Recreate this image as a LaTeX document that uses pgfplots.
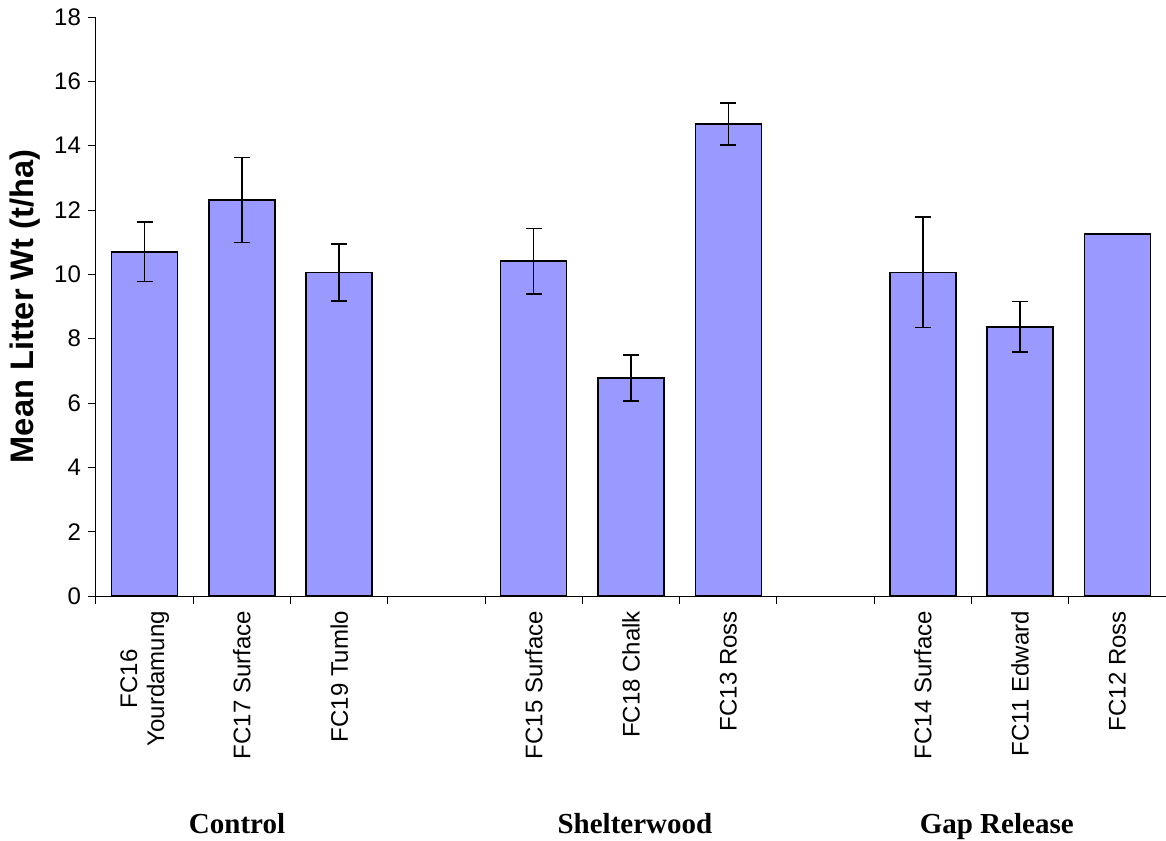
\documentclass[border=0pt]{standalone}
\usepackage{pgfplots}
\pgfplotsset{compat=1.18}
\usepackage{pgfplotstable}
\usepackage{fontspec}
\setmainfont{Liberation Sans}
\newfontfamily\timesfont{Liberation Serif}
\definecolor{barblue}{HTML}{9999FF}
\pgfplotstableread{
x y e
0 10.70 0.92
1 12.31 1.32
2 10.06 0.89
4 10.41 1.02
5 6.78 0.71
6 14.67 0.65
8 10.06 1.72
9 8.37 0.78
10 11.26 0
}\datatable
\begin{document}
\begin{tikzpicture}
\begin{axis}[
  scale only axis,
  width=535pt, height=289.5pt,
  xmin=-0.5, xmax=10.5, ymin=0, ymax=18,
  axis x line=bottom, axis y line=left,
  axis line style={-, black, line width=0.5pt},
  ytick={0,2,...,18},
  xtick={0,1,2,4,5,6,8,9,10},
  xticklabels={{FC16\\Yourdamung},{FC17 Surface},{FC19 Tumlo},{FC15 Surface},{FC18 Chalk},{FC13 Ross},{FC14 Surface},{FC11 Edward},{FC12 Ross}},
  minor xtick={-0.5,0.5,...,10.5},
  major x tick style={draw=none},
  tick align=outside,
  major tick length=4pt,
  minor tick length=4pt,
  tick style={black, line width=0.5pt},
  xticklabel style={rotate=90, anchor=east, align=center, font=\fontsize{12}{13.5}\selectfont},
  yticklabel style={font=\fontsize{12}{13.5}\selectfont},
  /pgf/number format/assume math mode=true,
  ylabel={\bfseries Mean Litter Wt (t/ha)},
  ylabel style={font=\fontsize{16.3}{19}\selectfont},
  clip=false,
]
\addplot[ybar, bar width=33pt, fill=barblue, draw=black, line width=0.75pt,
  error bars/.cd, y dir=both, y explicit,
  error bar style={black, line width=0.75pt},
  error mark options={black, line width=0.75pt, mark size=4pt, rotate=90}]
  table[x=x, y=y, y error=e] {\datatable};
\node[anchor=base, font=\timesfont\bfseries\fontsize{14.5}{17}\selectfont] at (axis cs:0.95,0) [yshift=-118.5pt] {Control};
\node[anchor=base, font=\timesfont\bfseries\fontsize{14.5}{17}\selectfont] at (axis cs:5.04,0) [yshift=-118.5pt] {Shelterwood};
\node[anchor=base, font=\timesfont\bfseries\fontsize{14.5}{17}\selectfont] at (axis cs:8.76,0) [yshift=-118.5pt] {Gap Release};
\coordinate (BL) at (rel axis cs:-0.0897,-0.4231);
\coordinate (TR) at (rel axis cs:1,1.0294);
\end{axis}
\pgfresetboundingbox
\path[use as bounding box] (BL) rectangle (TR);
\end{tikzpicture}
\end{document}
